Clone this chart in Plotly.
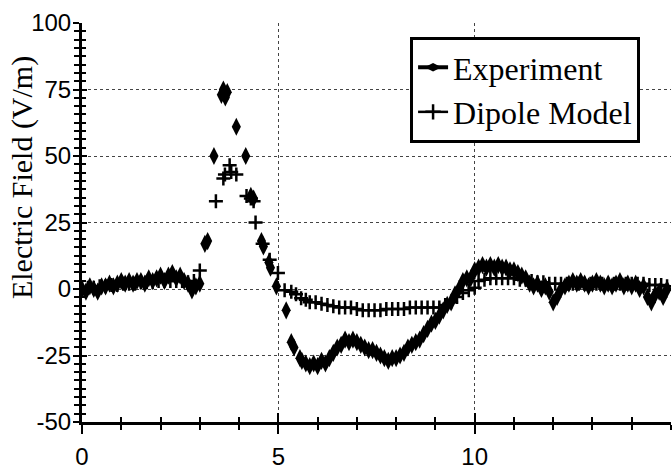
import plotly.graph_objects as go

# ---------------- data ----------------
exp_x = [0.0, 0.1, 0.2, 0.3, 0.4, 0.5, 0.6, 0.7, 0.8, 0.9,
         1.0, 1.1, 1.2, 1.3, 1.4, 1.5, 1.6, 1.7, 1.8, 1.9,
         2.0, 2.1, 2.2, 2.3, 2.4, 2.5, 2.6, 2.7, 2.8, 2.9, 3.0,
         3.13, 3.2, 3.36, 3.55, 3.6, 3.65, 3.7, 3.93, 4.17, 4.3, 4.37,
         4.57, 4.62, 4.76, 4.8, 4.95, 5.2, 5.33, 5.4,
         5.55, 5.6, 5.7, 5.8, 5.9, 6.0, 6.1, 6.2, 6.3, 6.4,
         6.5, 6.6, 6.7, 6.8, 6.9, 7.0, 7.1, 7.2, 7.3, 7.4,
         7.5, 7.6, 7.7, 7.8, 7.9, 8.0, 8.1, 8.2, 8.3, 8.4,
         8.5, 8.6, 8.7, 8.8, 8.9, 9.0, 9.1, 9.2, 9.3, 9.4,
         9.5, 9.6, 9.7, 9.8, 9.9, 10.0, 10.1, 10.2, 10.3, 10.4,
         10.5, 10.6, 10.7, 10.8, 10.9, 11.0, 11.1, 11.2, 11.3, 11.4,
         11.5, 11.6, 11.7, 11.8, 11.9, 12.0, 12.1, 12.2, 12.3, 12.4,
         12.5, 12.6, 12.7, 12.8, 12.9, 13.0, 13.1, 13.2, 13.3, 13.4,
         13.5, 13.6, 13.7, 13.8, 13.9, 14.0, 14.1, 14.2, 14.3, 14.4,
         14.5, 14.6, 14.7, 14.8, 14.9]
exp_y = [0, -1, 1, 0, -1, 1, 1, 2, 1, 2,
         3, 2, 3, 2, 3, 3, 2, 4, 3, 4,
         5, 3, 5, 6, 4, 5, 3, 2, -0.5, 1, 2,
         17, 18, 50, 73, 75, 72, 74, 61, 50, 35, 34,
         18, 16, 10, 8, 1, -8, -20, -22,
         -26, -27, -28, -29, -28, -29, -27, -28, -26, -24,
         -22, -21, -19, -20, -19, -20, -21, -22, -23, -23,
         -24, -25, -26, -27, -26, -26, -25, -24, -22, -21,
         -20, -19, -17, -15, -13, -12, -10, -8, -6, -5,
         -2, 0, 3, 4, 4, 7, 8, 9, 8, 9,
         8, 9, 8, 8, 7, 7, 6, 5, 4, 2,
         1, 2, 0, 1, -1, -5, -3, 0, 1, 2,
         3, 2, 3, 2, 1, 2, 3, 2, 1, 2,
         1, 2, 3, 1, 2, 1, 2, 0, 1, -3,
         -5, -2, -1, -3, 0]

dip_x = [0.0, 0.15, 0.3, 0.45, 0.6, 0.75, 0.9, 1.05, 1.2, 1.35,
         1.5, 1.65, 1.8, 1.95, 2.1, 2.25, 2.4, 2.55, 2.7, 2.85,
         3.0, 3.41, 3.6, 3.64, 3.76, 3.8, 3.93, 4.19, 4.3, 4.37,
         4.42, 4.6, 4.78, 4.99, 5.16, 5.33, 5.45, 5.58, 5.7, 5.8,
         5.95, 6.1, 6.25, 6.4, 6.55, 6.7, 6.85, 7.0, 7.15, 7.3,
         7.45, 7.6, 7.75, 7.9, 8.05, 8.2, 8.35, 8.5, 8.65, 8.8,
         8.95, 9.1, 9.25, 9.4, 9.55, 9.7, 9.85, 10.0, 10.1, 10.25,
         10.4, 10.55, 10.7, 10.85, 11.0, 11.15, 11.3, 11.45, 11.6, 11.75,
         11.9, 12.05, 12.2, 12.35, 12.5, 12.65, 12.8, 12.95, 13.1, 13.25,
         13.4, 13.55, 13.7, 13.85, 14.0, 14.15, 14.3, 14.45, 14.6, 14.75, 14.9]
dip_y = [0, 0.5, 0.5, 1, 1, 1.5, 1.5, 2, 2, 2,
         2.5, 2.5, 2.5, 3, 3, 3, 3, 3, 2.5, 3,
         7, 33, 41.5, 43, 46.5, 44, 43, 35, 34, 33,
         25, 17, 11, 6, -0.5, -1, -2, -3.5, -4, -5,
         -5, -5.5, -6, -6.5, -7, -7, -7, -7.5, -8, -8,
         -8, -8, -7.5, -7.5, -7.5, -7.5, -7, -7, -7, -7,
         -7, -7, -6, -5, -3, -1.5, -0.5, 0.5, 3, 3.5,
         4, 4, 4, 4, 4, 3.5, 3.5, 3, 2.5, 2.5,
         2, 2, 2, 2, 2, 2, 2, 2, 2, 2,
         2, 2, 2, 2, 2, 2, 2, 1.5, 1.5, 1.5, 1]

x_ticks = [0, 5, 10]
x_tick_labels = ["0", "5", "10"]
y_ticks = [-50, -25, 0, 25, 50, 75, 100]
y_tick_labels = ["-50", "-25", "0", "25", "50", "75", "100"]
x_range = [0, 15]
y_range = [-50, 100]

# ---------------- figure ----------------
SERIF = "Liberation Serif, Times New Roman, serif"
SANS = "Liberation Sans, Arial, sans-serif"

fig = go.Figure()

fig.add_trace(go.Scatter(
    x=exp_x, y=exp_y, mode="markers", name="Experiment", showlegend=False,
    marker=dict(symbol="diamond-tall", size=13, color="black",
                line=dict(width=0))))
fig.add_trace(go.Scatter(
    x=dip_x, y=dip_y, mode="markers", name="Dipole Model", showlegend=False,
    marker=dict(symbol="cross-thin", size=10, color="black",
                line=dict(width=2.5, color="black"))))

# legend entries (line + marker like the original legend)
fig.add_trace(go.Scatter(
    x=[None], y=[None], mode="lines+markers", name="Experiment",
    line=dict(color="black", width=4),
    marker=dict(symbol="diamond-wide", size=12, color="black")))
fig.add_trace(go.Scatter(
    x=[None], y=[None], mode="lines+markers", name="Dipole Model",
    line=dict(color="black", width=2.5),
    marker=dict(symbol="cross-thin", size=11, color="black",
                line=dict(width=2.5, color="black"))))

grid = dict(showgrid=True, gridcolor="#444444", gridwidth=1, griddash="dot")

fig.update_layout(
    width=672, height=471,
    margin=dict(l=82, r=1, t=23, b=44),
    paper_bgcolor="white", plot_bgcolor="white",
    font=dict(family=SANS, color="black"),
    xaxis=dict(range=x_range, tickvals=x_ticks, ticktext=x_tick_labels,
               ticks="outside", ticklen=9,
               tickwidth=2, tickcolor="black", showline=True, linewidth=3,
               linecolor="black", zeroline=False,
               tickfont=dict(family=SANS, size=24), ticklabelstandoff=2,
               minor=dict(dtick=1, ticks="outside", ticklen=5, tickwidth=2,
                          tickcolor="black", showgrid=False),
               **grid),
    yaxis=dict(range=y_range, tickvals=y_ticks, ticktext=y_tick_labels,
               ticks="outside", ticklen=6,
               tickwidth=2, tickcolor="black", showline=True, linewidth=3,
               linecolor="black", zeroline=False,
               tickfont=dict(family=SANS, size=24), ticklabelstandoff=-3,
               minor=dict(dtick=3.125, tick0=0, ticks="outside", ticklen=5,
                          tickwidth=2, tickcolor="black", showgrid=False),
               **grid),
    xaxis2=dict(range=x_range, overlaying="x", anchor="y", side="bottom",
                tickvals=x_ticks, ticks="inside", ticklen=9, tickwidth=2,
                tickcolor="black", showticklabels=False, showgrid=False,
                zeroline=False, showline=False,
                minor=dict(dtick=1, ticks="inside", ticklen=5, tickwidth=2,
                           tickcolor="black", showgrid=False)),
    yaxis2=dict(range=y_range, overlaying="y", anchor="x", side="left",
                tickvals=y_ticks, ticks="inside", ticklen=5, tickwidth=2,
                tickcolor="black", showticklabels=False, showgrid=False,
                zeroline=False, showline=False,
                minor=dict(dtick=3.125, tick0=0, ticks="inside", ticklen=4,
                           tickwidth=2, tickcolor="black", showgrid=False)),
    legend=dict(x=0.557, y=0.965, xanchor="left", yanchor="top",
                bgcolor="white", bordercolor="black", borderwidth=3,
                font=dict(family=SERIF, size=32, color="black"),
                itemwidth=30, tracegroupgap=0),
    showlegend=True,
)

# dummy trace so the overlay axes get drawn
fig.add_trace(go.Scatter(x=[None], y=[None], xaxis="x2", yaxis="y2",
                         showlegend=False, hoverinfo="skip"))

fig.add_annotation(text="Electric Field (V/m)", textangle=-90,
                   xref="paper", yref="paper",
                   x=(22 - 82) / 589, y=1 - (180 - 23) / 404,
                   xanchor="center", yanchor="middle", showarrow=False,
                   font=dict(family=SERIF, size=30, color="black"))

fig.write_html("out.html")
